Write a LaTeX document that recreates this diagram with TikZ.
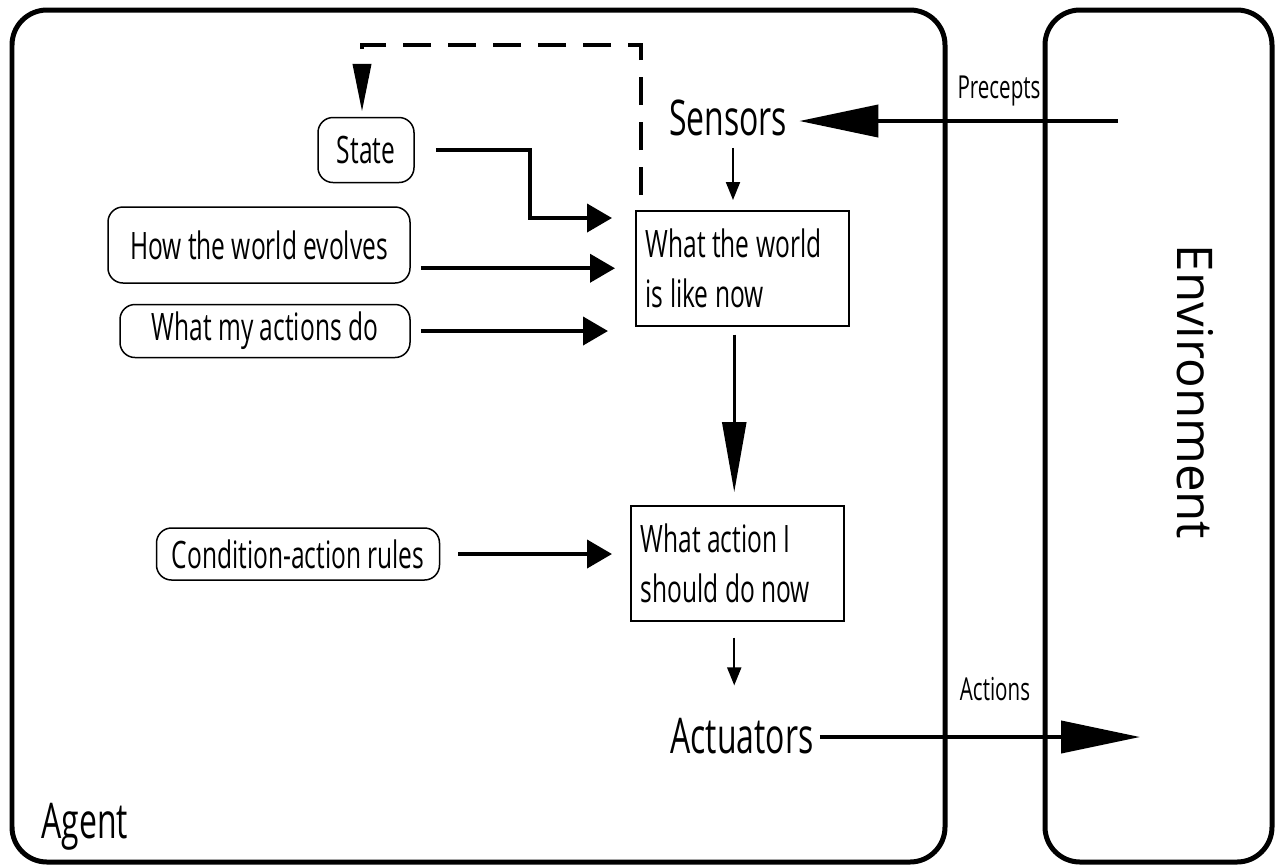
\documentclass[tikz,border=0pt]{standalone}
\usepackage{fontspec}
\setmainfont[FakeStretch=0.65]{Open Sans}
\newfontfamily\widefont{Open Sans}
\usetikzlibrary{arrows.meta}

\begin{document}
\def\px{0.02cm}
\def\boxfont{\fontsize{21.5}{28}\selectfont}
\def\bigfont{\fontsize{28}{34}\selectfont}
\def\smallfont{\fontsize{18}{22}\selectfont}

\begin{tikzpicture}[x=\px,y=-\px]
\tikzstyle{frame}=[line width=0.1cm,rounded corners=0.7cm]
\tikzstyle{rulebox}=[draw,rounded corners=0.3cm,line width=0.03cm,inner sep=0,font=\boxfont]
\tikzstyle{statebox}=[draw,line width=0.03cm,anchor=north west,text width=193*\px,inner xsep=10*\px,minimum height=115*\px,align=flush left,font=\boxfont]
\tikzstyle{arc}=[line width=0.08cm,-{Triangle[length=0.5cm,width=0.56cm]}]
\tikzstyle{dasharc}=[line width=0.08cm,dash pattern=on 0.56cm off 0.34cm,-{Triangle[length=0.96cm,width=0.36cm]}]
\tikzstyle{smallarc}=[line width=0.04cm,-{Triangle[length=0.36cm,width=0.28cm]}]
\tikzstyle{downarc}=[line width=0.05cm,-{Triangle[length=1.4cm,width=0.48cm]}]
\tikzstyle{bigarc}=[line width=0.08cm,-{Triangle[length=1.58cm,width=0.64cm]}]

\useasboundingbox (0,0) rectangle (1275,867);

% agent and environment
\draw[frame] (12,10) rectangle (945,862);
\draw[frame] (1045,10) rectangle (1272,862);
\node[font=\bigfont,anchor=base west,inner sep=0] (agent) at (41,838) {Agent};
\node[font={\widefont\bigfont},rotate=-90] (envlabel) at (1195,392) {Environment};

% sensors and actuators
\node[font=\bigfont,anchor=base,inner sep=0] (sensors) at (728,135) {Sensors};
\node[font=\bigfont,anchor=base,inner sep=0] (actuators) at (742,753) {Actuators};
\node[font=\smallfont,anchor=base,inner sep=0] (precepts) at (999,98) {Precepts};
\node[font=\smallfont,anchor=base,inner sep=0] (actions) at (995,700) {Actions};

% internal state
\node[rulebox,minimum width=96*\px,minimum height=65*\px] (state) at (366,150) {State};
\node[rulebox,minimum width=302*\px,minimum height=76*\px] (evolve) at (259,245) {How the world evolves};
\node[rulebox,minimum width=290*\px,minimum height=53*\px] (effect) at (265,331) {What my actions do};
\node[rulebox,minimum width=283*\px,minimum height=52*\px] (rules) at (298,554) {Condition-action rules};

\node[statebox] (world) at (635,210) {What the world\\is like now};
\node[statebox] (act) at (630,505) {What action I\\should do now};

% connectors
\coordinate (percin) at (1118,121);
\coordinate (actout) at (1140,737);
\coordinate (bend) at (530,218);
\coordinate (loop) at (362,45);

\draw[bigarc,shorten >=12*\px] (percin) -- (sensors.east |- percin);
\draw[smallarc,shorten <=12*\px,shorten >=10*\px] ([xshift=5*\px]sensors.south) -- ([xshift=5*\px]sensors.south |- world.north);
\draw[dasharc,shorten >=5*\px] ([xshift=6*\px,yshift=15*\px]world.north west) |- (loop) -- (loop |- state.north);
\draw[arc,shorten <=21*\px,shorten >=23*\px] (state.east) -| (bend) -- (bend -| world.west);
\draw[arc,shorten <=10*\px,shorten >=20*\px] (evolve.east |- world.west) -- (world.west);
\draw[arc,shorten <=10*\px,shorten >=27*\px] (effect.east) -- (effect.east -| world.west);
\draw[downarc,shorten <=8*\px,shorten >=13*\px] ([xshift=-8*\px]world.south) -- ([xshift=-8*\px]world.south |- act.north);
\draw[arc,shorten <=18*\px,shorten >=18*\px] (rules.east) -- (rules.east -| act.west);
\draw[smallarc,shorten <=16*\px,shorten >=32*\px] ([xshift=-3*\px]act.south) -- ([xshift=-3*\px]act.south |- actuators.north);
\draw[bigarc,shorten <=6*\px] (actuators.east |- actout) -- (actout);

\end{tikzpicture}
\end{document}
